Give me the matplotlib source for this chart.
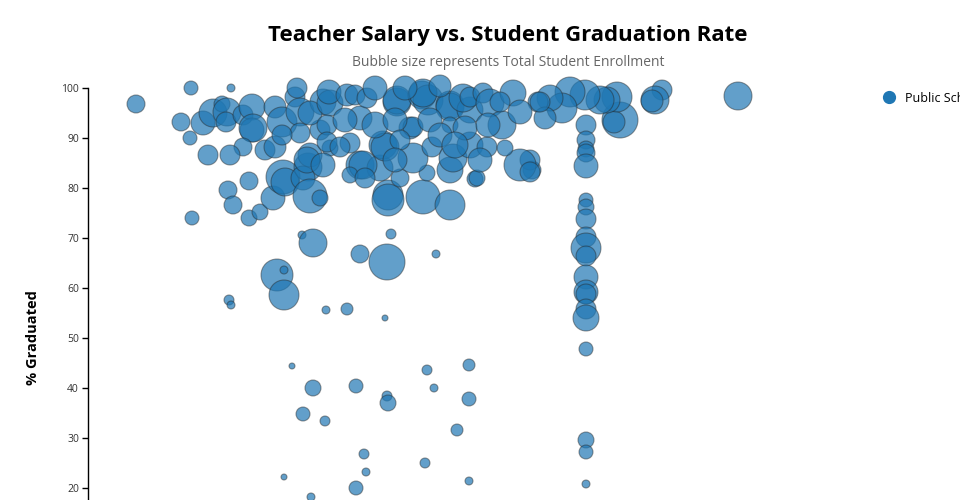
import matplotlib
matplotlib.use("Agg")
import matplotlib.pyplot as plt
from matplotlib.lines import Line2D
import numpy as np

plt.rcParams['font.family'] = ['Open Sans', 'DejaVu Sans']

# teacher salary ($k), % graduated, total student enrollment
salary = [
    43.6, 49.1, 53.1, 48.1, 49.0, 50.3, 51.3, 52.2, 52.7, 52.6,
    54.3, 55.2, 55.2, 55.3, 57.5, 58.2, 56.5, 57.5, 54.3, 53.0,
    50.8, 54.9, 52.8, 53.3, 54.9, 56.0, 49.2, 57.3, 58.3, 58.5,
    60.8, 60.3, 61.0, 59.5, 60.0, 60.0, 59.7, 62.3, 62.0, 63.0,
    58.2, 61.0, 61.0, 60.7, 60.2, 61.3, 57.7, 58.4, 58.4, 52.9,
    53.1, 62.6, 64.7, 68.5, 66.0, 68.7, 69.1, 73.6, 68.8, 68.8,
    70.0, 72.3, 75.0, 77.5, 72.7, 75.0, 66.0, 68.0,
    59.2, 72.7, 76.9, 61.3, 65.6, 68.7, 68.8, 73.4, 76.9, 60.3,
    62.5, 75.7, 66.4, 72.5, 66.6, 76.9, 65.6, 61.1, 58.4,
    88.6, 88.6, 88.6, 88.6, 88.6, 88.6, 88.6, 88.6, 88.6, 88.6,
    88.6, 88.6, 88.6, 88.6, 88.6, 88.6, 88.6, 88.6, 88.6, 88.6,
    103.8, 96.2, 95.5, 95.2, 92.0, 91.4, 91.7, 90.7, 90.0, 88.5,
    87.0, 86.2, 85.0, 83.8, 84.5, 83.2, 83.0,
    63.0, 62.9, 62.7, 62.7, 62.3, 64.7, 65.5, 66.0, 66.7, 65.0,
    64.0, 66.3, 68.3, 68.5, 69.7, 69.7, 71.0, 71.3, 72.2, 72.8,
    72.3, 71.3, 73.2, 75.3, 75.0, 75.0, 75.0, 77.0, 77.0, 76.3,
    77.0, 78.3, 79.0, 78.7, 77.7, 81.3, 80.2, 82.0, 83.0, 80.0,
    84.0, 62.0, 64.5, 67.5, 69.5, 73.0, 74.0, 76.5, 78.8, 70.0,
    67.5, 70.5, 74.0, 82.0, 75.5, 69.5, 65.0, 66.5, 78.0, 80.5,
]
graduated = [
    96.8, 100.0, 100.0, 93.2, 90.0, 93.0, 95.0, 96.8, 95.2, 93.2,
    94.6, 96.2, 91.6, 92.0, 96.2, 93.2, 87.6, 88.2, 88.2, 86.6,
    86.6, 81.4, 79.6, 76.6, 74.0, 75.2, 74.0, 78.0, 82.2, 81.2,
    84.2, 82.0, 78.4, 98.2, 95.2, 91.0, 100.0, 97.2, 91.6, 88.0,
    90.6, 86.6, 95.0, 85.6, 70.6, 69.0, 62.6, 63.6, 58.6, 57.6,
    56.6, 55.6, 55.8, 54.0, 66.8, 65.2, 70.8, 66.8, 78.6, 77.6,
    82.0, 78.2, 76.6, 81.8, 83.0, 83.6, 84.6, 84.0,
    44.4, 43.6, 44.6, 40.0, 40.4, 38.4, 37.0, 40.0, 37.8, 34.8,
    33.4, 31.6, 26.8, 25.0, 23.2, 21.4, 20.0, 18.2, 22.2,
    92.6, 89.6, 87.8, 87.0, 84.4, 77.6, 76.2, 73.8, 70.2, 68.0,
    66.4, 62.2, 59.2, 58.8, 55.8, 54.0, 47.8, 29.6, 27.2, 20.8,
    98.4, 99.6, 97.6, 97.4, 93.6, 93.2, 98.2, 97.6, 97.6, 98.6,
    99.2, 96.0, 98.0, 97.2, 94.0, 83.6, 85.6,
    97.0, 99.2, 92.6, 89.2, 84.6, 98.6, 98.6, 94.0, 98.0, 89.0,
    88.2, 84.6, 88.6, 88.2, 97.2, 97.6, 92.0, 92.2, 98.6, 97.6,
    99.0, 86.0, 88.2, 86.0, 96.6, 96.2, 92.6, 95.6, 88.6, 98.0,
    98.2, 99.0, 97.0, 88.2, 82.0, 99.0, 92.6, 84.6, 83.2, 97.2,
    97.2, 78.0, 93.6, 92.6, 93.6, 93.6, 90.6, 92.0, 92.6, 89.6,
    100.0, 100.0, 100.4, 95.2, 88.6, 85.6, 82.6, 82.0, 85.6, 88.0,
]
enrollment = [
    8100, 4900, 1600, 8100, 4900, 14400, 19600, 6400, 19600, 10000,
    10000, 16900, 14400, 19600, 12100, 22500, 10000, 12100, 8100, 10000,
    10000, 8100, 8100, 8100, 6400, 6400, 4900, 14400, 28900, 19600,
    19600, 14400, 28900, 10000, 19600, 10000, 10000, 16900, 10000, 6400,
    10000, 14400, 14400, 16900, 1600, 19600, 25600, 1600, 22500, 2500,
    1600, 1600, 3600, 900, 8100, 32400, 2500, 1600, 22500, 25600,
    8100, 28900, 22500, 6400, 6400, 16900, 19600, 16900,
    900, 2500, 3600, 6400, 4900, 2500, 6400, 1600, 4900, 4900,
    2500, 3600, 2500, 2500, 1600, 1600, 4900, 1600, 900,
    10000, 8100, 6400, 8100, 14400, 4900, 6400, 10000, 10000, 22500,
    10000, 14400, 14400, 10000, 10000, 16900, 4900, 6400, 4900, 1600,
    19600, 10000, 19600, 12100, 32400, 12100, 22500, 16900, 19600, 22500,
    22500, 22500, 16900, 10000, 12100, 8100, 10000,
    16900, 14400, 10000, 10000, 14400, 12100, 10000, 14400, 10000, 10000,
    10000, 19600, 19600, 19600, 19600, 19600, 12100, 10000, 19600, 22500,
    19600, 22500, 10000, 19600, 19600, 19600, 6400, 16900, 16900, 19600,
    10000, 10000, 19600, 10000, 6400, 16900, 19600, 25600, 10000, 10000,
    10000, 6400, 14400, 16900, 14400, 14400, 14400, 14400, 14400, 10000,
    14400, 14400, 12100, 14400, 16900, 14400, 6400, 10000, 14400, 6400,
]
y_ticks = [20, 30, 40, 50, 60, 70, 80, 90, 100]
series_name = "Public Schools"

blue = "#1f77b4"

fig = plt.figure(figsize=(9.6, 5), dpi=100)
# plot area runs off the bottom of the canvas, as in the reference
ax = fig.add_axes([88 / 960, 0.824 - 1.0, 772 / 960, 1.0])

sizes = np.array(enrollment) * 0.0207
ax.scatter(salary, graduated, s=sizes, facecolors=(0.122, 0.467, 0.706, 0.7),
           edgecolors=(0.15, 0.15, 0.15, 0.45), linewidths=0.8,
           clip_on=False, zorder=3)

ax.set_xlim(38.8, 116)
ax.set_ylim(0, 100)
ax.set_yticks(y_ticks)
ax.tick_params(axis='y', length=4.5, width=1, labelsize=7.5,
               labelcolor="#333333", pad=2)
ax.set_xticks([])
for side in ["top", "right", "bottom"]:
    ax.spines[side].set_visible(False)
ax.spines["left"].set_linewidth(1)

fig.text(33 / 960, 1 - 338 / 500, "% Graduated", rotation=90, ha="center",
         va="center", fontsize=10.5, fontweight="bold")

fig.text(508 / 960, 1 - 35 / 500, "Teacher Salary vs. Student Graduation Rate",
         ha="center", va="center", fontsize=16, fontweight="bold")
fig.text(508 / 960, 1 - 62 / 500, "Bubble size represents Total Student Enrollment",
         ha="center", va="center", fontsize=10, color="#666666")

handle = Line2D([], [], linestyle="none", marker="o", markersize=8.5,
                markerfacecolor=blue, markeredgecolor=blue)
fig.legend([handle], [series_name], loc="center left",
           bbox_to_anchor=(876 / 960, 1 - 98 / 500), frameon=False,
           fontsize=9, handletextpad=0.35, borderaxespad=0, borderpad=0)

fig.savefig("out.png", dpi=100)
